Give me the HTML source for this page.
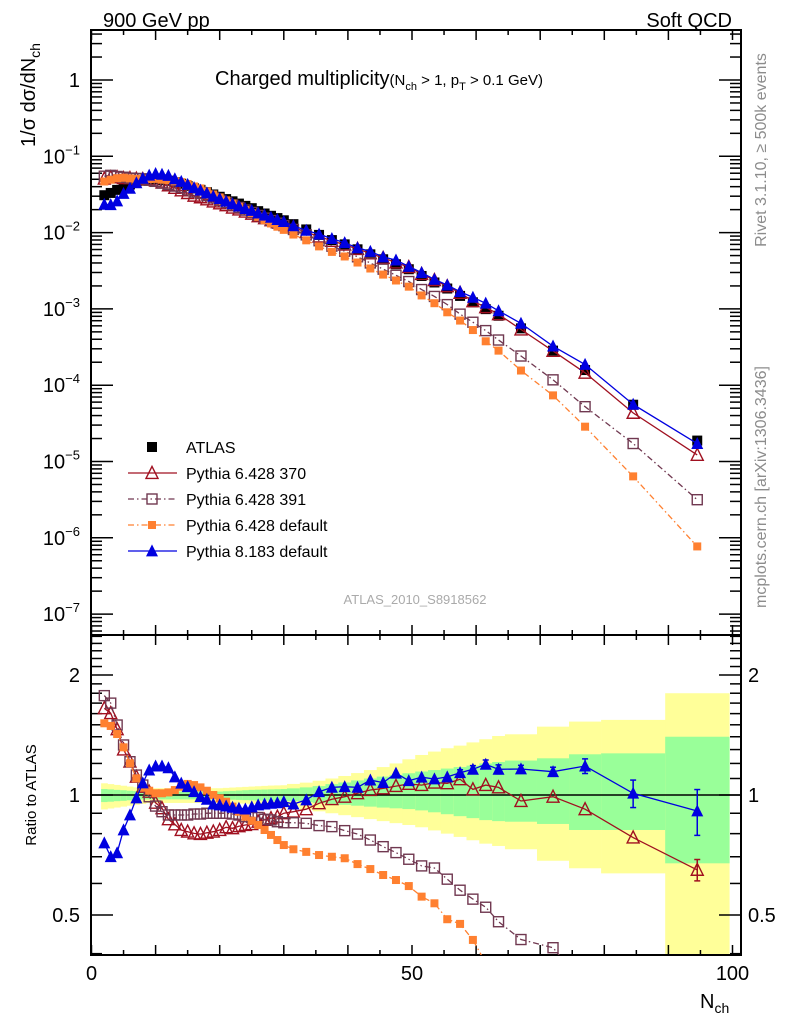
<!DOCTYPE html>
<html><head><meta charset="utf-8"><style>
html,body{margin:0;padding:0;background:#fff;width:786px;height:1024px;overflow:hidden;}
svg{display:block;font-family:"Liberation Sans",sans-serif;}
</style></head><body>
<svg id="chart" width="786" height="1024" viewBox="0 0 786 1024" xmlns="http://www.w3.org/2000/svg">
<defs>
<clipPath id="clipMain"><rect x="91" y="30" width="650" height="605"/></clipPath>
<clipPath id="clipRatio"><rect x="91" y="635" width="650" height="320"/></clipPath>
</defs>
<g id="bands" clip-path="url(#clipRatio)"></g>
<g id="axes"></g>
<g id="mainMarks" clip-path="url(#clipMain)"></g>
<g id="ratioMarks" clip-path="url(#clipRatio)"></g>
<text x="103" y="27" font-size="20">900 GeV pp</text>
<text x="732" y="27" font-size="20" text-anchor="end">Soft QCD</text>
<text x="215" y="85" font-size="20">Charged multiplicity<tspan font-size="15">(N</tspan><tspan font-size="11" dy="5">ch</tspan><tspan font-size="15" dy="-5"> &gt; 1, p</tspan><tspan font-size="11" dy="5">T</tspan><tspan font-size="15" dy="-5"> &gt; 0.1 GeV)</tspan></text>
<text transform="translate(35,95) rotate(-90)" font-size="20" text-anchor="middle">1/σ dσ/dN<tspan font-size="14" dy="5">ch</tspan></text>
<text transform="translate(36,795) rotate(-90)" font-size="15" text-anchor="middle">Ratio to ATLAS</text>
<text x="700" y="1008" font-size="20">N<tspan font-size="14" dy="5">ch</tspan></text>
<text transform="translate(766,150) rotate(-90)" font-size="16" fill="#8c8c8c" text-anchor="middle">Rivet 3.1.10, ≥ 500k events</text>
<text transform="translate(766,487) rotate(-90)" font-size="16" fill="#8c8c8c" text-anchor="middle">mcplots.cern.ch [arXiv:1306.3436]</text>
<text x="415" y="604" font-size="13" fill="#aaa" text-anchor="middle">ATLAS_2010_S8918562</text>
<g id="legend"></g>
</svg>
<script>
const nch = [2,3,4,5,6,7,8,9,10,11,12,13,14,15,16,17,18,19,20,21,22,23,24,25,26,27,28,29,30,
 31.5,33.5,35.5,37.5,39.5,41.5,43.5,45.5,47.5,49.5,51.5,53.5,55.5,57.5,59.5,61.5,63.5,67,72,77,84.5,94.5];
const binWidth = [1,1,1,1,1,1,1,1,1,1,1,1,1,1,1,1,1,1,1,1,1,1,1,1,1,1,1,1,1,
 2,2,2,2,2,2,2,2,2,2,2,2,2,2,2,2,2,5,5,5,10,10];
const atlas = [0.0309,0.0331,0.0363,0.0398,0.0427,0.0457,0.0479,0.0490,0.0501,0.0490,0.0479,0.0457,0.0437,0.0407,0.0380,0.0363,0.0339,0.0316,0.0295,0.0275,0.0257,0.0240,0.0224,0.0209,0.0191,0.0178,0.0166,0.0155,0.0145,
 0.0129,0.0110,0.00933,0.00798,0.00701,0.00604,0.00519,0.00447,0.00385,0.00331,0.00270,0.00222,0.00185,0.00148,0.00122,0.000993,0.000813,0.000556,0.000284,0.000158,5.55e-5,1.88e-5];
const ratioP370 = [1.65,1.604,1.462,1.30,1.212,1.111,1.049,1.019,0.956,0.926,0.869,0.844,0.817,0.809,0.801,0.798,0.804,0.809,0.817,0.83,0.825,0.835,0.841,0.845,0.857,0.866,0.874,0.882,0.90,
 0.908,0.921,0.953,0.976,0.99,1.01,1.029,1.039,1.053,1.066,1.059,1.074,1.07,1.095,1.033,1.059,1.045,0.966,0.99,0.921,0.782,0.649];
const ratioP391 = [1.775,1.70,1.498,1.335,1.212,1.122,1.059,0.99,0.938,0.908,0.891,0.891,0.891,0.891,0.896,0.896,0.90,0.90,0.90,0.90,0.896,0.891,0.882,0.878,0.878,0.869,0.866,0.857,0.852,
 0.852,0.849,0.838,0.833,0.814,0.798,0.771,0.742,0.717,0.69,0.664,0.656,0.615,0.577,0.548,0.523,0.481,0.434,0.414,0.331,0.31,0.168];
const ratioPdef = [1.513,1.49,1.422,1.317,1.201,1.101,1.043,1.025,1.01,1.01,1.015,1.029,1.049,1.066,1.059,1.045,1.025,1.0,0.981,0.962,0.935,0.908,0.882,0.862,0.841,0.817,0.794,0.771,0.749,
 0.731,0.72,0.707,0.70,0.694,0.671,0.652,0.63,0.612,0.591,0.556,0.535,0.488,0.475,0.433,0.379,0.349,0.28,0.259,0.181,0.115,0.041];
const ratioP8 = [0.758,0.70,0.716,0.817,0.891,0.983,1.072,1.155,1.182,1.182,1.17,1.11,1.07,1.049,1.019,0.99,0.975,0.949,0.944,0.938,0.931,0.926,0.922,0.933,0.944,0.949,0.953,0.956,0.962,
 0.949,0.972,1.019,1.045,1.049,1.045,1.09,1.074,1.134,1.086,1.108,1.097,1.11,1.137,1.16,1.194,1.16,1.162,1.144,1.182,1.01,0.912];
const errP8 = [0,0,0,0,0,0,0,0,0,0,0,0,0,0,0,0,0,0,0,0,0,0,0,0,0,0,0,0,0,
 0,0,0,0,0,0,0,0,0,0,0,0,0,0.02,0.025,0.03,0.03,0.025,0.03,0.05,0.08,0.12];
const errP370 = [0,0,0,0,0,0,0,0,0,0,0,0,0,0,0,0,0,0,0,0,0,0,0,0,0,0,0,0,0,
 0,0,0,0,0,0,0,0,0,0,0,0,0,0,0,0,0,0,0,0,0,0.04];
const yellowHi = [1.07,1.065,1.06,1.055,1.05,1.045,1.04,1.04,1.04,1.04,1.04,1.04,1.04,1.04,1.04,1.04,1.04,1.04,1.04,1.042,1.044,1.046,1.048,1.05,1.052,1.054,1.056,1.057,1.058,
 1.066,1.074,1.086,1.10,1.116,1.135,1.155,1.175,1.20,1.229,1.26,1.285,1.31,1.33,1.355,1.38,1.406,1.42,1.484,1.528,1.543,1.80];
const greenHi = [1.035,1.033,1.03,1.028,1.025,1.023,1.02,1.02,1.02,1.02,1.02,1.02,1.02,1.02,1.02,1.02,1.02,1.02,1.02,1.022,1.024,1.026,1.028,1.03,1.031,1.032,1.033,1.034,1.035,
 1.039,1.045,1.053,1.065,1.075,1.088,1.10,1.112,1.123,1.134,1.145,1.155,1.165,1.175,1.185,1.20,1.21,1.22,1.236,1.265,1.272,1.40];
const greenLo = [0.96,0.962,0.965,0.967,0.97,0.972,0.975,0.975,0.975,0.975,0.975,0.975,0.975,0.975,0.975,0.975,0.975,0.975,0.975,0.974,0.973,0.972,0.971,0.97,0.969,0.968,0.967,0.966,0.966,
 0.965,0.96,0.955,0.95,0.945,0.94,0.935,0.93,0.926,0.922,0.915,0.905,0.895,0.885,0.875,0.865,0.86,0.857,0.846,0.817,0.817,0.674];
const yellowLo = [0.92,0.925,0.93,0.935,0.94,0.945,0.95,0.955,0.955,0.955,0.955,0.955,0.955,0.955,0.955,0.955,0.955,0.955,0.955,0.954,0.953,0.952,0.951,0.95,0.949,0.948,0.947,0.946,0.945,
 0.93,0.92,0.91,0.90,0.89,0.88,0.87,0.86,0.85,0.841,0.83,0.815,0.80,0.785,0.77,0.755,0.745,0.731,0.684,0.655,0.636,0.2];
const xTickMajor = [0,10,20,30,40,50,60,70,80,90,100];
const xTickLabels = ["0","50","100"];
const mainTickExp = [0,-1,-2,-3,-4,-5,-6,-7];
const ratioTicks = [0.5,1,2];

const NS="http://www.w3.org/2000/svg";
const X0=91.5, XS=6.41;
function xs(n){return X0+n*XS;}
function ym(v){return 80-76.3*Math.log10(v);}
function yr(r){return 795-398.7*Math.log10(r);}
function mk(tag,attrs,parent){const e=document.createElementNS(NS,tag);for(const k in attrs)e.setAttribute(k,attrs[k]);parent.appendChild(e);return e;}

const axes=document.getElementById('axes');
let f1=mk('rect',{x:91,y:30,width:650,height:605,fill:'none',stroke:'#000','stroke-width':2},axes);


let f2=mk('rect',{x:91,y:635,width:650,height:320,fill:'none',stroke:'#000','stroke-width':2},axes);


for(let n=0;n<=100;n+=5){
  const L=(n%10===0)?10:5, x=xs(n);
  for(const yb of [635,955]){ mk('line',{x1:x,y1:yb,x2:x,y2:yb-L,stroke:'#000','stroke-width':1.5},axes); }
  for(const yt of [30,635]){ mk('line',{x1:x,y1:yt,x2:x,y2:yt+L,stroke:'#000','stroke-width':1.5},axes); }
}
[0,50,100].forEach((n,i)=>{
  const t=mk('text',{x:xs(n),y:980,'font-size':20,'text-anchor':'middle'},axes);
  t.textContent=xTickLabels[i];
  
  
});
for(let e=-8;e<=0;e++){
  for(let m=1;m<=9;m++){
    const v=m*Math.pow(10,e), y=ym(v);
    if(y<30||y>635) continue;
    const L=m===1?22:11;
    mk('line',{x1:91,y1:y,x2:91+L,y2:y,stroke:'#000','stroke-width':1.5},axes);
    mk('line',{x1:741,y1:y,x2:741-L,y2:y,stroke:'#000','stroke-width':1.5},axes);
  }
}
mainTickExp.forEach(e=>{
  const y=ym(Math.pow(10,e));
  const t=mk('text',{x:80,y:y+7,'font-size':20,'text-anchor':'end'},axes);
  if(e===0){t.textContent='1';}
  else{t.textContent='10';const s=mk('tspan',{dy:-9,'font-size':13},t);s.textContent='−'+(-e);}
  
  
});
for(let k=4;k<=25;k++){
  const r=k/10, y=yr(r);
  if(y<635||y>955) continue;
  const L=(r===0.5||r===1||r===2)?22:11;
  mk('line',{x1:91,y1:y,x2:91+L,y2:y,stroke:'#000','stroke-width':1.5},axes);
  mk('line',{x1:741,y1:y,x2:741-L,y2:y,stroke:'#000','stroke-width':1.5},axes);
}
ratioTicks.forEach(r=>{
  const y=yr(r);
  const t1=mk('text',{x:80,y:y+7,'font-size':20,'text-anchor':'end'},axes); t1.textContent=String(r);
  
  
  const t2=mk('text',{x:748,y:y+7,'font-size':20},axes); t2.textContent=String(r);
  
  
});

const bands=document.getElementById('bands');
nch.forEach((n,i)=>{
  const x1=xs(n-binWidth[i]/2), w=binWidth[i]*XS;
  const yb=mk('rect',{x:x1,y:yr(yellowHi[i]),width:w+0.3,height:yr(yellowLo[i])-yr(yellowHi[i]),fill:'#ffff99'},bands);
  
  
  const gb=mk('rect',{x:x1,y:yr(greenHi[i]),width:w+0.3,height:yr(greenLo[i])-yr(greenHi[i]),fill:'#99ff99'},bands);
  
  
});
const one=mk('line',{x1:91,y1:yr(1),x2:741,y2:yr(1),stroke:'#000','stroke-width':1.5},bands);



function marker(type,x,y,color,parent,size){
  let e;
  if(type==='sqFill'){e=mk('rect',{x:x-size/2,y:y-size/2,width:size,height:size,fill:color},parent);}
  else if(type==='sqOpen'){e=mk('rect',{x:x-size/2,y:y-size/2,width:size,height:size,fill:'none',stroke:color,'stroke-width':1.4},parent);}
  else if(type==='triOpen'){e=mk('polygon',{points:`${x},${y-size*0.55} ${x-size/2},${y+size*0.45} ${x+size/2},${y+size*0.45}`,fill:'none',stroke:color,'stroke-width':1.4},parent);}
  else {e=mk('polygon',{points:`${x},${y-size*0.55} ${x-size/2},${y+size*0.45} ${x+size/2},${y+size*0.45}`,fill:color},parent);}
  return e;
}
const series=[
  {name:'pythia6-370',ratio:ratioP370,err:errP370,color:'#a01020',type:'triOpen',size:12,dash:'',label:'Pythia 6.428 370'},
  {name:'pythia6-391',ratio:ratioP391,err:null,color:'#703850',type:'sqOpen',size:10,dash:'6,3,1.5,3',label:'Pythia 6.428 391'},
  {name:'pythia6-default',ratio:ratioPdef,err:null,color:'#ff8030',type:'sqFill',size:8,dash:'6,3,1.5,3',label:'Pythia 6.428 default'},
  {name:'pythia8-default',ratio:ratioP8,err:errP8,color:'#0000e0',type:'triFill',size:12,dash:'',label:'Pythia 8.183 default'}
];
const mainG=document.getElementById('mainMarks'), ratG=document.getElementById('ratioMarks');
nch.forEach((n,i)=>{
  const m=marker('sqFill',xs(n),ym(atlas[i]),'#000',mainG,10);
  
  
});
series.forEach(s=>{
  const pm=nch.map((n,i)=>`${xs(n).toFixed(1)},${ym(atlas[i]*s.ratio[i]).toFixed(1)}`).join(' ');
  const l1=mk('polyline',{points:pm,fill:'none',stroke:s.color,'stroke-width':1.3,'stroke-dasharray':s.dash},mainG);
  
  
  const pr=nch.map((n,i)=>`${xs(n).toFixed(1)},${yr(s.ratio[i]).toFixed(1)}`).join(' ');
  const l2=mk('polyline',{points:pr,fill:'none',stroke:s.color,'stroke-width':1.3,'stroke-dasharray':s.dash},ratG);
  
  
  nch.forEach((n,i)=>{
    const a=marker(s.type,xs(n),ym(atlas[i]*s.ratio[i]),s.color,mainG,s.size);
    
    
    if(s.err&&s.err[i]>0){
      const eb=mk('line',{x1:xs(n),x2:xs(n),y1:yr(s.ratio[i]+s.err[i]),y2:yr(s.ratio[i]-s.err[i]),stroke:s.color,'stroke-width':1.5},ratG);
      
      
      mk('line',{x1:xs(n)-3,x2:xs(n)+3,y1:yr(s.ratio[i]+s.err[i]),y2:yr(s.ratio[i]+s.err[i]),stroke:s.color,'stroke-width':1.5},ratG);
      mk('line',{x1:xs(n)-3,x2:xs(n)+3,y1:yr(s.ratio[i]-s.err[i]),y2:yr(s.ratio[i]-s.err[i]),stroke:s.color,'stroke-width':1.5},ratG);
    }
    const b=marker(s.type,xs(n),yr(s.ratio[i]),s.color,ratG,s.size);
    
    
  });
});
const lg=document.getElementById('legend');
const la=marker('sqFill',152,447,'#000',lg,10);


const lat=mk('text',{x:186,y:453,'font-size':16},lg); lat.textContent='ATLAS';


series.forEach((s,k)=>{
  const y=473+k*26;
  mk('line',{x1:128,x2:177,y1:y,y2:y,stroke:s.color,'stroke-width':1.3,'stroke-dasharray':s.dash},lg);
  const m=marker(s.type,152,y,s.color,lg,s.size);
  
  
  const t=mk('text',{x:186,y:y+6,'font-size':16},lg); t.textContent=s.label;
  
  
});
</script>
</body></html>
